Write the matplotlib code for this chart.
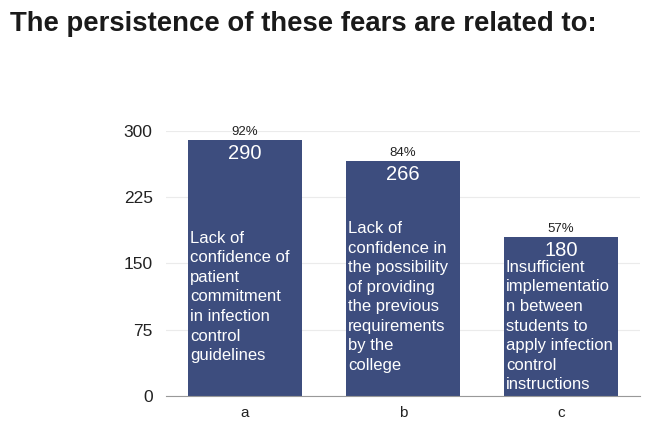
import matplotlib.pyplot as plt

categories = ['a', 'b', 'c']
counts = [290, 266, 180]
percents = ['92%', '84%', '57%']
descriptions = [
    'Lack of\nconfidence of\npatient\ncommitment\nin infection\ncontrol\nguidelines',
    'Lack of\nconfidence in\nthe possibility\nof providing\nthe previous\nrequirements\nby the\ncollege',
    'Insufficient\nimplementatio\nn between\nstudents to\napply infection\ncontrol\ninstructions',
]
desc_tops = [187, 198, 154]
yticks = [0, 75, 150, 225, 300]

plt.rcParams['font.family'] = ['Liberation Sans', 'DejaVu Sans']

fig = plt.figure(figsize=(6.53, 4.28), dpi=100)
ax = fig.add_axes([0.254, 0.075, 0.726, 0.619])

x = range(len(categories))
bar_w = 0.72
ax.bar(x, counts, width=bar_w, color='#3d4d7e', zorder=2)

for i, (c, p, d, t) in enumerate(zip(counts, percents, descriptions, desc_tops)):
    ax.text(i, c + 8.5, p, ha='center', va='center', fontsize=9.5, color='#222222', clip_on=False)
    ax.text(i, c - 15, str(c), ha='center', va='center', fontsize=14.5, color='white')
    ax.text(i - bar_w / 2 + 0.012, t, d, ha='left', va='top', fontsize=12,
            color='white', linespacing=1.38)

ax.set_xlim(-0.5, 2.5)
ax.set_ylim(0, 300)
ax.set_yticks(yticks)
ax.set_xticks(list(x))
ax.set_xticklabels(categories, fontsize=11, color='#222222')
ax.tick_params(axis='y', length=0, labelsize=12.5, pad=9.5, labelcolor='#222222')
ax.tick_params(axis='x', length=0, pad=7)
ax.grid(axis='y', color='#ebebeb', linewidth=0.8, zorder=0)
for s in ['top', 'right', 'left']:
    ax.spines[s].set_visible(False)
ax.spines['bottom'].set_color('#999999')
ax.spines['bottom'].set_zorder(3)

fig.text(0.015, 0.945, 'The persistence of these fears are related to:', fontsize=19.8,
         fontweight='bold', color='#1a1a1a', va='center', ha='left')

plt.savefig('out.png', dpi=100)
